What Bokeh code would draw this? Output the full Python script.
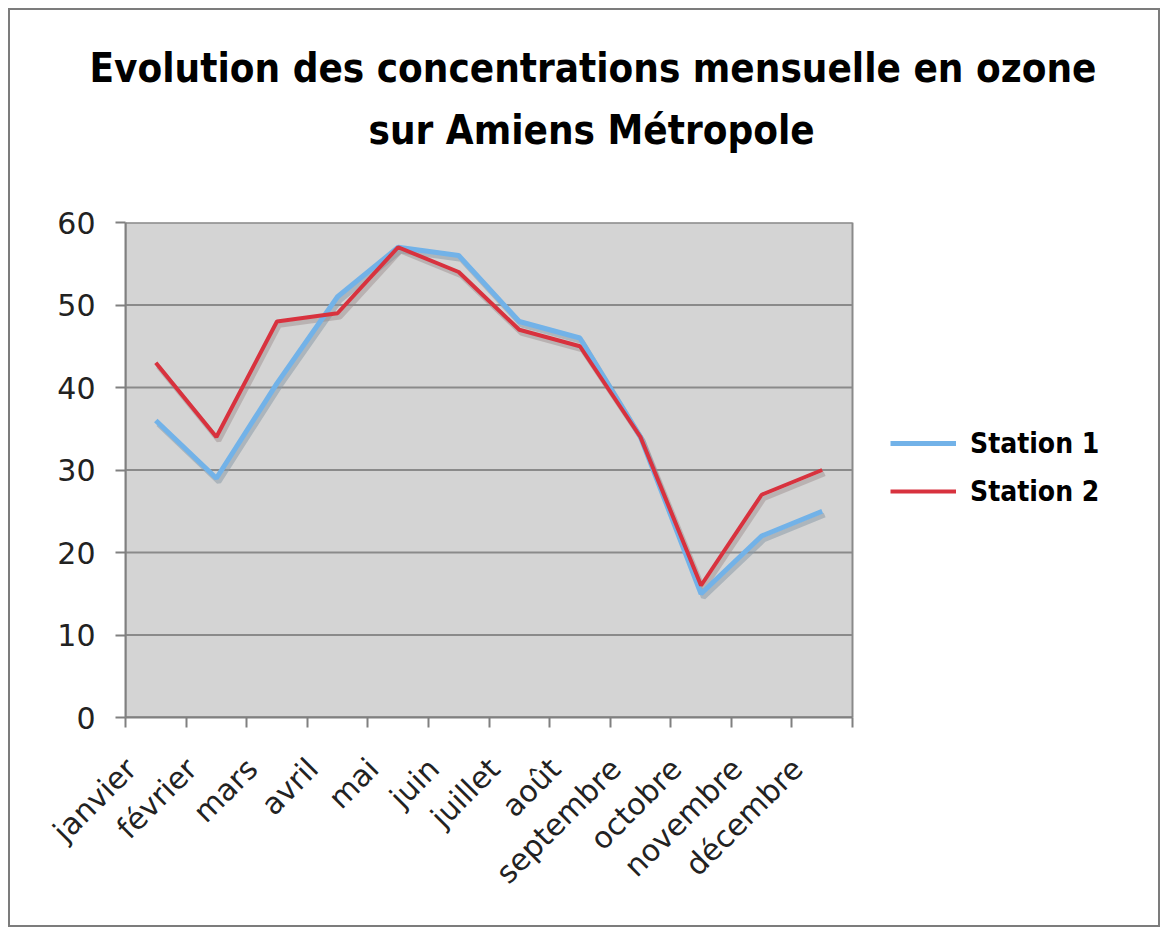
from math import pi
from bokeh.plotting import figure
from bokeh.models import (ColumnDataSource, Range1d, LinearAxis, Title,
                          FixedTicker, Legend, LegendItem)
from bokeh.transform import dodge
from bokeh.embed import file_html
from bokeh.resources import INLINE

months = ["janvier", "février", "mars", "avril", "mai", "juin", "juillet", "août",
          "septembre", "octobre", "novembre", "décembre"]
station1 = [36, 29, 40.5, 51, 57, 56, 48, 46, 34, 15, 22, 25]
station2 = [43, 34, 48, 49, 57, 54, 47, 45, 34, 16, 27, 30]
y_ticks = [0, 10, 20, 30, 40, 50, 60]
y_max = 60
title_lines = ["Evolution des concentrations mensuelle en ozone", "sur Amiens Métropole"]
series_names = ["Station 1", "Station 2"]

n = len(months)
centers = [i + 0.5 for i in range(n)]          # category centres on an index scale
label_pos = [c - 0.41 for c in centers]        # rotated labels sit left of the centre
src = ColumnDataSource(dict(x=centers, month=months, s1=station1, s2=station2))
grid_src = ColumnDataSource(dict(y=y_ticks, x0=[0] * len(y_ticks), x1=[n] * len(y_ticks)))

# layout constants (pixels)
W, H = 1152, 919
AREA_PX = 727      # width of the grey plotting area
FRAME_PX = 1027    # frame extends right to hold the legend
x_end = n * FRAME_PX / AREA_PX

BOLD_FONT = "DejaVu Sans Condensed"
p = figure(width=W, height=H, x_range=Range1d(0, x_end), y_range=Range1d(0, y_max),
           output_backend="svg", toolbar_location=None, x_axis_location=None,
           y_axis_location=None, min_border_left=115, min_border_right=10,
           min_border_top=212, min_border_bottom=212)
p.background_fill_color = "white"
p.border_fill_color = "white"
p.outline_line_color = None
p.styles = {"border": "2px solid #7c7c7c", "box-sizing": "border-box",
            "margin-left": "8px", "margin-top": "8px"}

# grey plotting area with its outline
p.quad(left=[0], right=[n], bottom=[0], top=[y_max], fill_color="#d4d4d4",
       line_color="#8a8a8a", line_width=2, level="image")
# horizontal gridlines limited to the plotting area
p.segment(x0="x0", x1="x1", y0="y", y1="y", source=grid_src,
          line_color="#8a8a8a", line_width=2)

yaxis = LinearAxis(ticker=FixedTicker(ticks=y_ticks), bounds=(0, y_max))
yaxis.axis_line_color = "#808080"
yaxis.axis_line_width = 2
yaxis.major_tick_line_color = "#808080"
yaxis.major_tick_line_width = 2
yaxis.major_tick_out = 10
yaxis.major_tick_in = 0
yaxis.minor_tick_line_color = None
yaxis.major_label_text_font = "DejaVu Sans"
yaxis.major_label_text_font_size = "30px"
yaxis.major_label_text_color = "#222222"
yaxis.major_label_standoff = 20
p.add_layout(yaxis, "left")

# one x axis: labels near category centres, tick marks at category boundaries
xaxis = LinearAxis(ticker=FixedTicker(ticks=label_pos, minor_ticks=list(range(n + 1))),
                   bounds=(0, n),
                   major_label_overrides={c: m for c, m in zip(label_pos, months)})
xaxis.axis_line_color = "#808080"
xaxis.axis_line_width = 2
xaxis.major_tick_line_color = None
xaxis.major_tick_out = 0
xaxis.major_tick_in = 0
xaxis.minor_tick_line_color = "#808080"
xaxis.minor_tick_line_width = 2
xaxis.minor_tick_out = 10
xaxis.minor_tick_in = 0
xaxis.major_label_orientation = pi / 4
xaxis.major_label_text_font = "DejaVu Sans"
xaxis.major_label_text_font_size = "30px"
xaxis.major_label_text_color = "#222222"
xaxis.major_label_standoff = 36
p.add_layout(xaxis, "below")

p.xgrid.grid_line_color = None
p.ygrid.grid_line_color = None

# shadows
p.line(x=dodge("x", 0.04), y=dodge("s1", -0.45), source=src,
       line_color="#8a9aa8", line_width=5, line_alpha=0.55)
p.line(x=dodge("x", 0.04), y=dodge("s2", -0.45), source=src,
       line_color="#9a8a8a", line_width=5, line_alpha=0.45)
r1 = p.line(x="x", y="s1", source=src, line_color="#72b2e8", line_width=5)
r2 = p.line(x="x", y="s2", source=src, line_color="#d8323e", line_width=4)

legend = Legend(items=[LegendItem(label=series_names[0], renderers=[r1]),
                       LegendItem(label=series_names[1], renderers=[r2])],
                location=(765, 208))
legend.label_text_font = BOLD_FONT
legend.label_text_font_style = "bold"
legend.label_text_font_size = "28px"
legend.label_text_color = "black"
legend.glyph_width = 66
legend.glyph_height = 36
legend.label_height = 36
legend.spacing = 12
legend.label_standoff = 14
legend.padding = 0
legend.margin = 0
legend.border_line_color = None
legend.background_fill_color = None
p.add_layout(legend)

# title: spacer closest to the frame, then line 2, then line 1
p.add_layout(Title(text=" ", text_font="DejaVu Sans", text_font_size="58px", standoff=0), "above")
p.add_layout(Title(text=title_lines[1], align="left", offset=243, standoff=0,
                   text_font=BOLD_FONT, text_font_style="bold", text_font_size="40px",
                   text_color="black"), "above")
p.add_layout(Title(text=title_lines[0], align="left", offset=-36, standoff=28,
                   text_font=BOLD_FONT, text_font_style="bold", text_font_size="40px",
                   text_color="black"), "above")

open("out.html", "w").write(file_html(p, INLINE))
